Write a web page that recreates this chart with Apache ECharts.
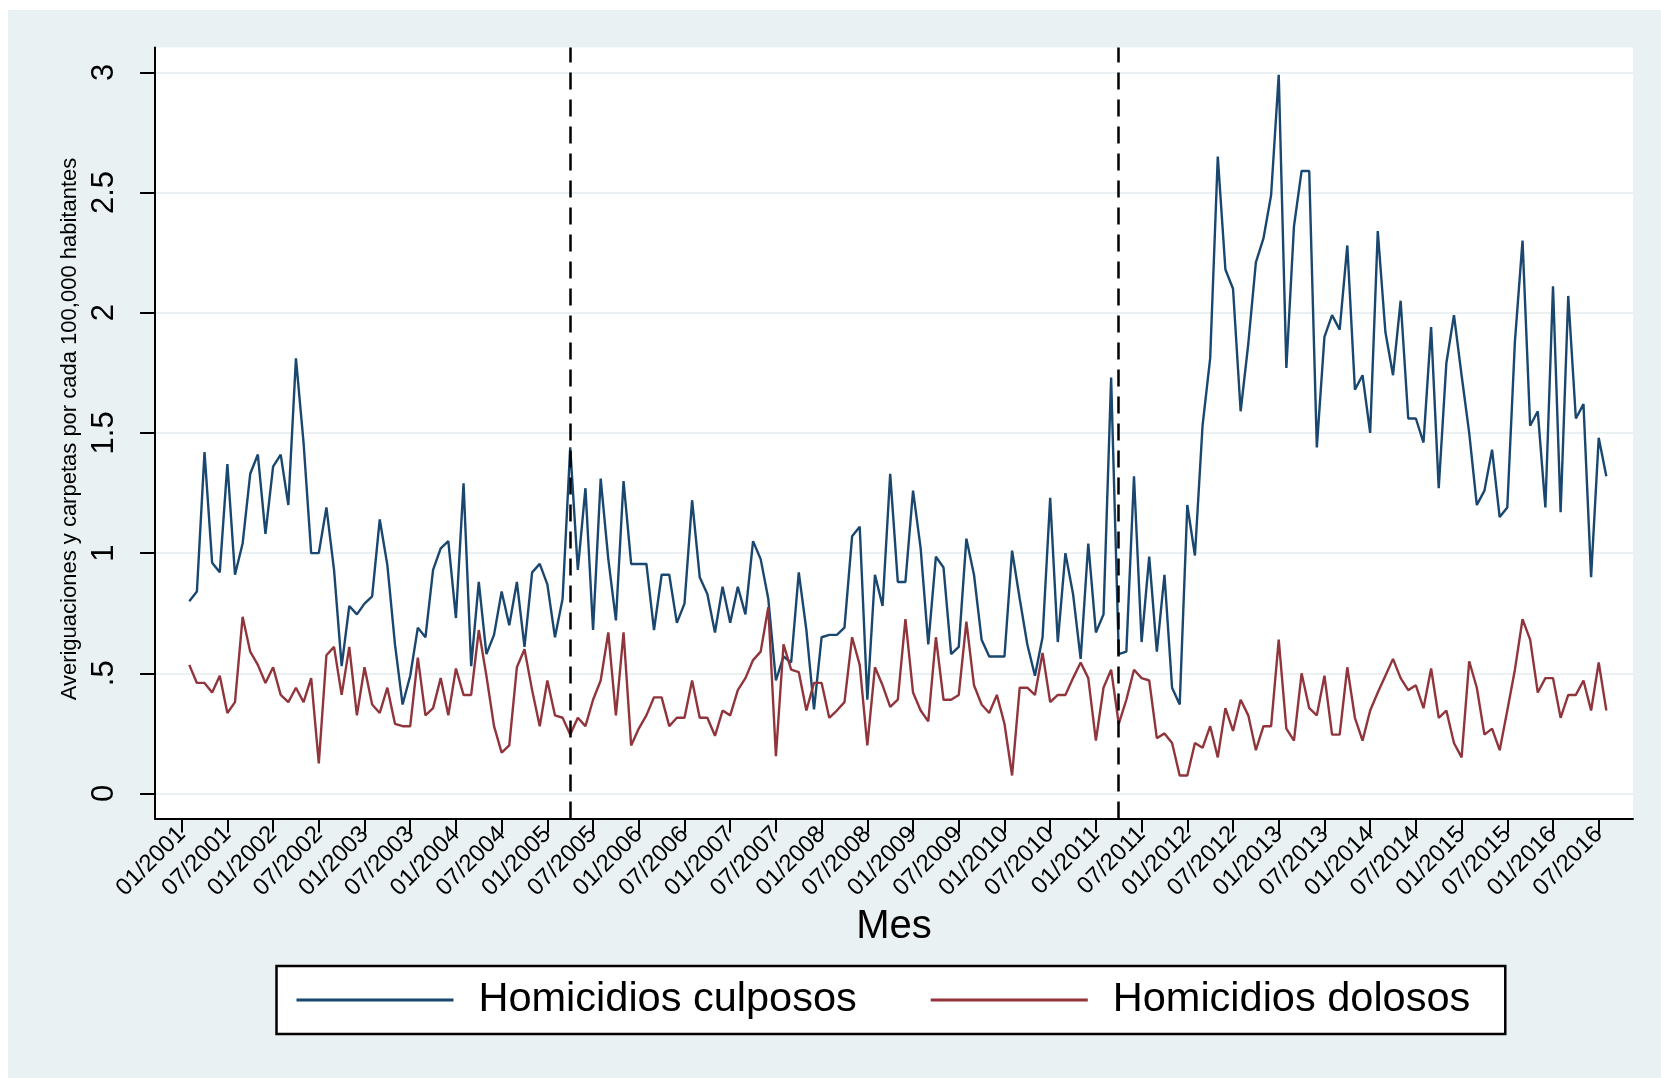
<!DOCTYPE html>
<html>
<head>
<meta charset="utf-8">
<script src="https://cdn.jsdelivr.net/npm/echarts@6/dist/echarts.min.js"></script>
<style>
html,body{margin:0;padding:0;background:#ffffff;width:1661px;height:1078px;overflow:hidden;}
#panel{position:absolute;left:8px;top:10px;width:1653px;height:1068px;background:#eaf1f2;}
#chart{width:1653px;height:1068px;}
</style>
</head>
<body>
<div id="panel"><div id="chart"></div></div>
<script>
// Month index: 0 = 01/2001; data runs from 02/2001 (index 1) to 08/2016 (index 187)
const firstMonthIndex = 1;
const tickLabels = ['01/2001','07/2001','01/2002','07/2002','01/2003','07/2003','01/2004','07/2004',
  '01/2005','07/2005','01/2006','07/2006','01/2007','07/2007','01/2008','07/2008',
  '01/2009','07/2009','01/2010','07/2010','01/2011','07/2011','01/2012','07/2012',
  '01/2013','07/2013','01/2014','07/2014','01/2015','07/2015','01/2016','07/2016'];
const yTickValues = [0, 0.5, 1, 1.5, 2, 2.5, 3];
const yTickLabels = ['0', '.5', '1', '1.5', '2', '2.5', '3'];
const breakMonths = [51, 123]; // 04/2005, 04/2011

const culposos = [
  0.80,0.84,1.42,0.96,0.92,1.37,0.91,1.04,1.33,1.41,
  1.08,1.36,1.41,1.20,1.81,1.46,1.00,1.00,1.19,0.93,
  0.53,0.78,0.745,0.79,0.82,1.14,0.95,0.62,0.37,0.49,
  0.69,0.65,0.93,1.02,1.05,0.73,1.29,0.53,0.88,0.58,
  0.66,0.84,0.70,0.88,0.61,0.92,0.955,0.87,0.65,0.81,
  1.44,0.93,1.27,0.68,1.31,0.975,0.72,1.30,0.955,0.955,
  0.955,0.68,0.91,0.91,0.71,0.79,1.22,0.90,0.83,0.67,
  0.86,0.71,0.86,0.745,1.05,0.975,0.81,0.47,0.57,0.545,
  0.92,0.68,0.35,0.65,0.66,0.66,0.69,1.07,1.11,0.39,
  0.91,0.78,1.33,0.88,0.88,1.26,1.02,0.62,0.985,0.94,
  0.58,0.61,1.06,0.91,0.64,0.57,0.57,0.57,1.01,0.81,
  0.62,0.49,0.65,1.23,0.63,1.00,0.83,0.56,1.04,0.67,
  0.745,1.73,0.58,0.59,1.32,0.63,0.985,0.59,0.91,0.44,
  0.37,1.20,0.99,1.53,1.81,2.65,2.18,2.10,1.59,1.87,
  2.21,2.31,2.49,2.99,1.77,2.36,2.59,2.59,1.44,1.90,
  1.99,1.93,2.28,1.68,1.74,1.50,2.34,1.92,1.74,2.05,
  1.56,1.56,1.46,1.94,1.27,1.79,1.99,1.74,1.50,1.20,
  1.26,1.43,1.15,1.19,1.88,2.30,1.53,1.59,1.19,2.11,
  1.17,2.07,1.56,1.62,0.90,1.48,1.32
];
const dolosos = [
  0.535,0.46,0.46,0.42,0.49,0.335,0.38,0.735,0.59,0.535,
  0.46,0.525,0.41,0.38,0.44,0.38,0.48,0.125,0.575,0.61,
  0.41,0.61,0.325,0.525,0.37,0.335,0.44,0.29,0.28,0.28,
  0.565,0.325,0.355,0.48,0.325,0.52,0.41,0.41,0.68,0.49,
  0.28,0.17,0.20,0.525,0.60,0.43,0.28,0.47,0.325,0.315,
  0.245,0.315,0.28,0.39,0.47,0.67,0.325,0.67,0.20,0.27,
  0.325,0.40,0.40,0.28,0.315,0.315,0.47,0.315,0.315,0.24,
  0.345,0.325,0.43,0.48,0.555,0.59,0.775,0.155,0.62,0.515,
  0.505,0.345,0.46,0.46,0.315,0.345,0.38,0.65,0.535,0.20,
  0.525,0.45,0.36,0.39,0.725,0.42,0.345,0.30,0.65,0.39,
  0.39,0.41,0.715,0.45,0.37,0.335,0.41,0.29,0.075,0.44,
  0.44,0.41,0.585,0.38,0.41,0.41,0.48,0.545,0.48,0.22,
  0.44,0.515,0.29,0.39,0.515,0.48,0.47,0.23,0.25,0.21,
  0.075,0.075,0.21,0.19,0.28,0.15,0.355,0.26,0.39,0.325,
  0.18,0.28,0.28,0.64,0.27,0.22,0.50,0.355,0.325,0.49,
  0.245,0.245,0.525,0.315,0.22,0.345,0.42,0.49,0.56,0.48,
  0.43,0.45,0.355,0.52,0.315,0.345,0.21,0.15,0.55,0.44,
  0.245,0.27,0.18,0.345,0.515,0.725,0.64,0.42,0.48,0.48,
  0.315,0.41,0.41,0.47,0.345,0.545,0.345
];

const toPairs = arr => arr.map((v, k) => [firstMonthIndex + k, v]);
const xTickValues = tickLabels.map((_, k) => k * 6);

const FONT = '"Liberation Sans", Arial, sans-serif';
const chart = echarts.init(document.getElementById('chart'), null, {renderer: 'canvas'});
chart.setOption({
  animation: false,
  backgroundColor: 'transparent',
  textStyle: {fontFamily: FONT, color: '#000'},
  grid: {left: 147, top: 37.5, right: 28, bottom: 259.4, show: true, backgroundColor: '#ffffff', borderWidth: 0},
  legend: {
    left: 268.5, top: 956,
    orient: 'horizontal',
    padding: [13, 35, 13, 20],
    itemGap: 74,
    itemWidth: 157, itemHeight: 3,
    icon: 'rect',
    backgroundColor: '#ffffff',
    borderColor: '#000000', borderWidth: 2.5, borderRadius: 0,
    textStyle: {fontFamily: FONT, fontSize: 41.5, color: '#000', padding: [0, 0, 0, 20]},
    data: ['Homicidios culposos', 'Homicidios dolosos']
  },
  xAxis: {
    type: 'value', min: -3.5, max: 190.5,
    name: 'Mes', nameLocation: 'middle', nameGap: 88,
    nameTextStyle: {fontFamily: FONT, fontSize: 40, color: '#000'},
    axisLine: {show: true, onZero: false, lineStyle: {color: '#000', width: 2}},
    axisTick: {show: true, length: 14, customValues: xTickValues, lineStyle: {color: '#000', width: 2}},
    axisLabel: {
      show: true, rotate: 45, margin: 12, fontSize: 24, fontFamily: FONT, color: '#000',
      customValues: xTickValues,
      formatter: v => tickLabels[Math.round(v / 6)] || ''
    },
    splitLine: {show: false}
  },
  yAxis: {
    type: 'value', min: -0.1045, max: 3.1035,
    name: 'Averiguaciones y carpetas por cada 100,000 habitantes',
    nameLocation: 'middle', nameRotate: 90, nameGap: 74,
    nameTextStyle: {fontFamily: FONT, fontSize: 22, color: '#000', padding: [0, 0, 0, 8]},
    axisLine: {show: true, onZero: false, lineStyle: {color: '#000', width: 2}},
    axisTick: {show: true, length: 15, customValues: yTickValues, lineStyle: {color: '#000', width: 2}},
    axisLabel: {
      show: true, rotate: 90, margin: 35.5, fontSize: 31, fontFamily: FONT, color: '#000',
      customValues: yTickValues,
      formatter: v => { const k = yTickValues.findIndex(t => Math.abs(t - v) < 1e-6); return k >= 0 ? yTickLabels[k] : ''; }
    },
    splitLine: {show: true, lineStyle: {color: '#ebf1f3', width: 2}}
  },
  series: [
    {
      name: 'Homicidios culposos', type: 'line', data: toPairs(culposos),
      showSymbol: false, symbol: 'none',
      lineStyle: {color: '#1a476f', width: 2.4}, itemStyle: {color: '#1a476f'},
      markLine: {
        silent: true, symbol: ['none', 'none'], label: {show: false},
        lineStyle: {color: '#000', type: [17, 10], width: 2.5},
        data: breakMonths.map(m => ({xAxis: m}))
      }
    },
    {
      name: 'Homicidios dolosos', type: 'line', data: toPairs(dolosos),
      showSymbol: false, symbol: 'none',
      lineStyle: {color: '#90353b', width: 2.4}, itemStyle: {color: '#90353b'}
    }
  ]
});
</script>
</body>
</html>
